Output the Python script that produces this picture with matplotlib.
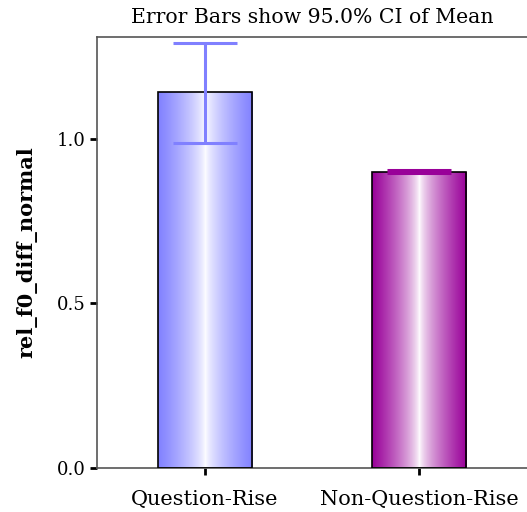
import numpy as np
import matplotlib
matplotlib.use("Agg")
import matplotlib.pyplot as plt
from matplotlib.colors import LinearSegmentedColormap

categories = ["Question-Rise", "Non-Question-Rise"]
means = [1.143, 0.900]
ci_low = [0.988, 0.895]
ci_high = [1.292, 0.905]
bar_colors = ["#8080ff", "#990099"]

plt.rcParams['font.family'] = ['DejaVu Serif']

fig = plt.figure(figsize=(5.27, 5.12), dpi=100)
ax = fig.add_axes([0.184, 0.086, 0.816, 0.842])

x = np.arange(len(categories))
width = 0.44
ax.set_xlim(-0.505, 1.505)
ax.set_ylim(0, 1.31)

grad = np.linspace(0, 1, 256)
prof = np.abs(grad - 0.5) * 2  # 1 at edges, 0 at centre
for xi, m, c in zip(x, means, bar_colors):
    cmap = LinearSegmentedColormap.from_list("g", ["#ffffff", c])
    bars = ax.bar(xi, m, width=width, color="none", edgecolor="black", linewidth=1.2, zorder=3)
    im = ax.imshow(prof[np.newaxis, :] ** 0.7, cmap=cmap, aspect="auto",
                   extent=(xi - width / 2, xi + width / 2, 0, m), zorder=2, vmin=0, vmax=1)
    im.set_clip_path(bars[0])

for xi, m, lo, hi, c in zip(x, means, ci_low, ci_high, bar_colors):
    ax.errorbar(xi, m, yerr=[[m - lo], [hi - m]], color=c, linewidth=2.2,
                capsize=23, capthick=2.2, zorder=4)

ax.set_xticks(x)
ax.set_xticklabels(categories, fontsize=15)
ax.set_yticks([0.0, 0.5, 1.0])
ax.set_yticklabels(["0.0", "0.5", "1.0"], fontsize=13)
ax.tick_params(axis="both", direction="out", length=5, width=2, color="black", pad=3)
ax.tick_params(axis="x", pad=11)

for s in ["left", "bottom", "top"]:
    ax.spines[s].set_color("#555555")
    ax.spines[s].set_linewidth(1.2)
ax.spines["right"].set_visible(False)

ax.set_ylabel("rel_f0_diff_normal", fontsize=15, fontweight="bold", labelpad=14)
ax.set_title("Error Bars show 95.0% CI of Mean", fontsize=14.7, pad=10)

fig.savefig("out.png", dpi=100, facecolor="white")
